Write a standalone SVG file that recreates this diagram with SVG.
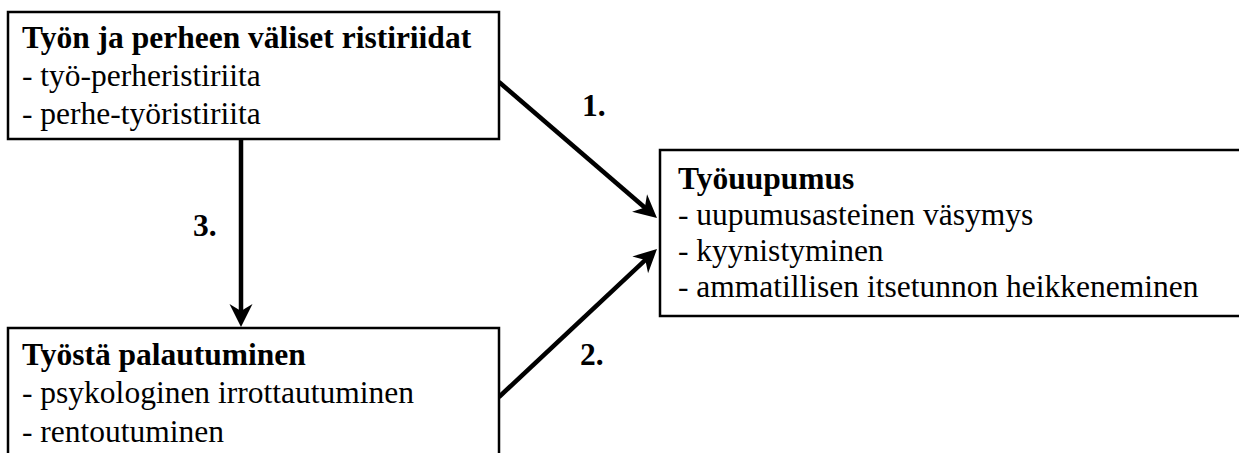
<svg xmlns="http://www.w3.org/2000/svg" width="1239" height="453" viewBox="0 0 1239 453">
<style>
.box{fill:#fff;stroke:#000;stroke-width:2.5}
.t{font-family:"Liberation Serif","Times New Roman",serif;font-size:31.5px;fill:#000}
.b{font-weight:bold}
.c{stroke:#000;stroke-width:4.5;fill:none}
</style>
<defs>
<marker id="ah" markerUnits="userSpaceOnUse" markerWidth="40" markerHeight="40" viewBox="-20 -20 40 40" refX="0" refY="0" orient="auto">
<path d="M10,0 L-13,-11.5 L-6,0 L-13,11.5 Z" fill="#000"/>
</marker>
</defs>
<rect width="1239" height="453" fill="#fff"/>
<g id="connectors">
<line class="c" x1="499" y1="82" x2="649.4" y2="211.5" marker-end="url(#ah)"/>
<line class="c" x1="499" y1="397" x2="649.7" y2="255.9" marker-end="url(#ah)"/>
<line class="c" x1="241" y1="139" x2="241" y2="317" marker-end="url(#ah)"/>
<text class="t b" x="582" y="116">1.</text>
<text class="t b" x="580" y="365">2.</text>
<text class="t b" x="193" y="236">3.</text>
</g>
<g id="node-ristiriidat">
<rect class="box" x="8" y="12" width="491" height="127"/>
<text class="t b" x="22" y="48">Työn ja perheen väliset ristiriidat</text>
<text class="t" x="22" y="86">- työ-perheristiriita</text>
<text class="t" x="22" y="124">- perhe-työristiriita</text>
</g>
<g id="node-palautuminen">
<rect class="box" x="8" y="328" width="491" height="140"/>
<text class="t b" x="22" y="365">Työstä palautuminen</text>
<text class="t" x="22" y="403">- psykologinen irrottautuminen</text>
<text class="t" x="22" y="442">- rentoutuminen</text>
</g>
<g id="node-tyouupumus">
<rect class="box" x="660" y="150" width="600" height="166"/>
<text class="t b" x="678" y="189">Työuupumus</text>
<text class="t" x="678" y="225">- uupumusasteinen väsymys</text>
<text class="t" x="678" y="261">- kyynistyminen</text>
<text class="t" x="678" y="297">- ammatillisen itsetunnon heikkeneminen</text>
</g>
</svg>
